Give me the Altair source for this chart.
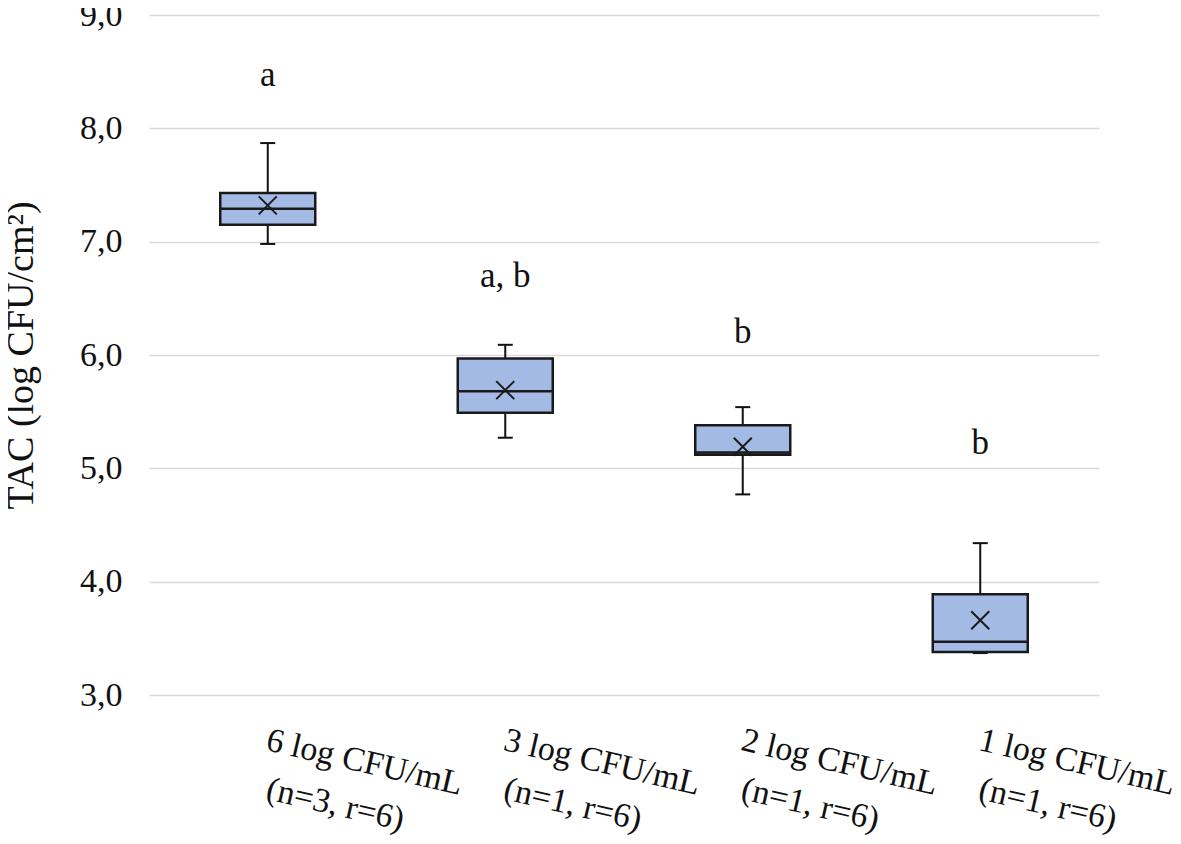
import altair as alt
import pandas as pd

categories = ["6 log CFU/mL|(n=3, r=6)", "3 log CFU/mL|(n=1, r=6)",
              "2 log CFU/mL|(n=1, r=6)", "1 log CFU/mL|(n=1, r=6)"]
whisker_low = [6.98, 5.27, 4.77, 3.37]
q1 = [7.15, 5.49, 5.12, 3.38]
median = [7.29, 5.68, 5.14, 3.47]
q3 = [7.43, 5.97, 5.38, 3.89]
whisker_high = [7.87, 6.09, 5.54, 4.34]
mean = [7.32, 5.69, 5.19, 3.66]
letters = ["a", "a, b", "b", "b"]
letter_y = [8.47, 6.70, 6.20, 5.22]

df = pd.DataFrame({
    "cat": categories, "lo": whisker_low, "q1": q1, "med": median,
    "q3": q3, "hi": whisker_high, "mean": mean,
    "letter": letters, "ly": letter_y,
})

FONT = "Liberation Serif"
TXT = "#111111"
xscale = alt.Scale(paddingInner=0, paddingOuter=0)


def xaxis(line, pad):
    return alt.Axis(title=None, orient="bottom",
                    labelExpr=f"split(datum.label, '|')[{line}]",
                    labelAngle=13, labelAlign="left", labelBaseline="top",
                    labelPadding=pad, labelOffset=3, labelFont=FONT, labelFontSize=34,
                    labelColor=TXT, ticks=False, domain=False, grid=False,
                    labelLimit=400)


x1 = alt.X("cat:N", sort=categories, scale=xscale, axis=xaxis(0, 28))
x2 = alt.X("cat:N", sort=categories, scale=xscale, axis=xaxis(1, 77))
xn = alt.X("cat:N", sort=categories, scale=xscale, axis=None)

yscale = alt.Scale(domain=[3, 9], nice=False, zero=False)
yaxis = alt.Axis(title="TAC (log CFU/cm²)", values=[3, 4, 5, 6, 7, 8, 9],
                 labelExpr="replace(format(datum.value, '.1f'), '.', ',')",
                 labelFont=FONT, labelFontSize=34, labelColor=TXT, labelPadding=27,
                 titleFont=FONT, titleFontSize=38, titleColor=TXT, titleFontWeight="normal",
                 titleAngle=-90, titleX=-128, titleY=340, titleAlign="center",
                 titleBaseline="middle",
                 ticks=False, domain=False, grid=True, gridColor="#d9d9d9",
                 gridWidth=1.5)

base = alt.Chart(df)

whisk = base.mark_rule(color="#111", strokeWidth=2).encode(
    x=x1, y=alt.Y("lo:Q", scale=yscale, axis=yaxis), y2="hi:Q")
cap_lo = base.mark_tick(color="#111", thickness=2, size=15, opacity=1).encode(
    x=xn, y=alt.Y("lo:Q", scale=yscale))
cap_hi = base.mark_tick(color="#111", thickness=2, size=15, opacity=1).encode(
    x=xn, y=alt.Y("hi:Q", scale=yscale))
box = base.mark_bar(size=95, fill="#a3bbe4", stroke="#1a1a1a", strokeWidth=2.5,
                    opacity=1).encode(x=xn, y=alt.Y("q1:Q", scale=yscale), y2="q3:Q")
med = base.mark_tick(color="#1a1a1a", thickness=2.5, size=95, opacity=1).encode(
    x=xn, y=alt.Y("med:Q", scale=yscale))
mn = base.mark_point(shape="M-1,-1L1,1M1,-1L-1,1", size=324, filled=False,
                     color="#1a1a1a", strokeWidth=2, opacity=1).encode(
    x=xn, y=alt.Y("mean:Q", scale=yscale))
txt = base.mark_text(font=FONT, fontSize=35, color=TXT, baseline="middle").encode(
    x=x2, y=alt.Y("ly:Q", scale=yscale), text="letter:N")

chart = alt.layer(whisk, cap_lo, cap_hi, box, med, mn, txt).resolve_axis(
    x="independent"
).properties(
    width=950, height=680, background="white",
    autosize=alt.AutoSizeParams(type="none"),
    padding={"left": 141, "top": 7, "right": 74, "bottom": 141},
).configure_view(strokeWidth=0)

chart.save("out.html", embed_options={"renderer": "svg", "actions": False})
